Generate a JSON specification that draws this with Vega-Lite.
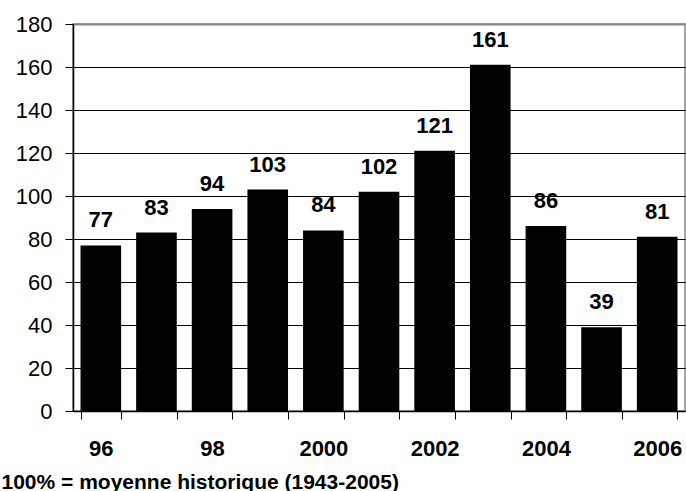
{
  "$schema": "https://vega.github.io/schema/vega-lite/v6.json",
  "autosize": {"type": "none"},
  "padding": {"left": 73, "top": 24, "right": 1, "bottom": 80},
  "width": 612,
  "height": 387,
  "background": "white",
  "config": {
    "view": {"stroke": "#888888", "strokeWidth": 1.5},
    "font": "Liberation Sans"
  },
  "data": {
    "values": [
      {"year": "96", "value": 77},
      {"year": "97", "value": 83},
      {"year": "98", "value": 94},
      {"year": "99", "value": 103},
      {"year": "2000", "value": 84},
      {"year": "2001", "value": 102},
      {"year": "2002", "value": 121},
      {"year": "2003", "value": 161},
      {"year": "2004", "value": 86},
      {"year": "2005", "value": 39},
      {"year": "2006", "value": 81}
    ]
  },
  "encoding": {
    "x": {
      "field": "year",
      "type": "nominal",
      "sort": null,
      "scale": {"paddingInner": 0.27, "paddingOuter": 0.135},
      "axis": {
        "title": "100% = moyenne historique (1943-2005)",
        "titleX": -72,
        "titleY": 77,
        "titleAlign": "left",
        "titleAnchor": null,
        "titleBaseline": "alphabetic",
        "titleFont": "Liberation Sans",
        "titleFontSize": 21,
        "titleFontWeight": "bold",
        "titleColor": "black",
        "labelExpr": "indexof(['96','98','2000','2002','2004','2006'], datum.value) >= 0 ? datum.value : ''",
        "labelAngle": 0,
        "labelFont": "Liberation Sans",
        "labelFontSize": 22,
        "labelFontWeight": "bold",
        "labelColor": "black",
        "labelBaseline": "alphabetic",
        "labelPadding": 36,
        "tickBand": "extent",
        "tickSize": 8,
        "tickColor": "black",
        "domainColor": "black",
        "domainWidth": 1.5,
        "grid": false
      }
    },
    "y": {
      "field": "value",
      "type": "quantitative",
      "scale": {"domain": [0, 180], "nice": false},
      "axis": {
        "title": null,
        "values": [0, 20, 40, 60, 80, 100, 120, 140, 160, 180],
        "labelFont": "Liberation Sans",
        "labelFontSize": 22,
        "labelColor": "black",
        "labelPadding": 13,
        "tickSize": 8,
        "tickColor": "black",
        "domainColor": "black",
        "domainWidth": 1.5,
        "grid": true,
        "gridColor": {"condition": {"test": "datum.value == 180", "value": "#888888"}, "value": "black"},
        "gridWidth": {"condition": {"test": "datum.value == 180", "value": 2}, "value": 1},
        "gridOpacity": 1
      }
    }
  },
  "layer": [
    {"mark": {"type": "bar", "color": "black"}},
    {
      "mark": {"type": "text", "baseline": "alphabetic", "dy": -18, "font": "Liberation Sans", "fontSize": 22, "fontWeight": "bold", "color": "black"},
      "encoding": {"text": {"field": "value", "type": "quantitative"}}
    }
  ]
}
